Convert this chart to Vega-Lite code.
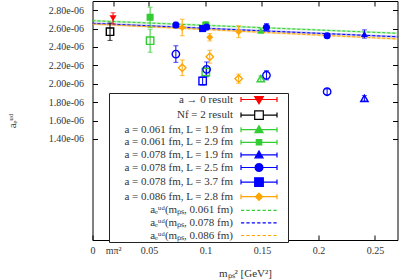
{
 "$schema":"https://vega.github.io/schema/vega-lite/v6.json",
 "width":305,"height":239,
 "autosize":{"type":"none"},
 "padding":{"left":92.5,"top":1,"right":1.5,"bottom":40},
 "background":"white",
 "config":{
  "view":{"stroke":"#000","strokeWidth":1},
  "axis":{"labelFont":"Liberation Serif","labelFontSize":10,"labelColor":"#333","tickColor":"#000","tickWidth":1,"domain":false,"grid":false,"titleFont":"Liberation Serif","titleFontWeight":"normal","titleColor":"#333","titleFontSize":11}
 },
 "datasets":{
  "pts":[
   {"s":"a → 0 result","x":0.0182,"y":2.712e-6,"e":6e-8,"o":false},
   {"s":"a = 0.061 fm, L = 1.9 fm","x":0.149,"y":2.577e-6,"e":2e-8,"o":false},
   {"s":"a = 0.061 fm, L = 2.9 fm","x":0.051,"y":2.723e-6,"e":1.1e-7,"o":false},
   {"s":"a = 0.061 fm, L = 2.9 fm","x":0.1003,"y":2.636e-6,"e":4e-8,"o":false},
   {"s":"a = 0.078 fm, L = 1.9 fm","x":0.2407,"y":2.541e-6,"e":4.5e-8,"o":false},
   {"s":"a = 0.078 fm, L = 2.5 fm","x":0.0738,"y":2.639e-6,"e":3e-8,"o":false},
   {"s":"a = 0.078 fm, L = 2.5 fm","x":0.101,"y":2.617e-6,"e":3e-8,"o":false},
   {"s":"a = 0.078 fm, L = 2.5 fm","x":0.154,"y":2.614e-6,"e":4e-8,"o":false},
   {"s":"a = 0.078 fm, L = 2.5 fm","x":0.2077,"y":2.522e-6,"e":2e-8,"o":false},
   {"s":"a = 0.078 fm, L = 3.7 fm","x":0.0975,"y":2.60e-6,"e":3e-8,"o":false},
   {"s":"a = 0.086 fm, L = 2.8 fm","x":0.0794,"y":2.612e-6,"e":9e-8,"o":false},
   {"s":"a = 0.086 fm, L = 2.8 fm","x":0.1038,"y":2.505e-6,"e":4e-8,"o":false},
   {"s":"a = 0.086 fm, L = 2.8 fm","x":0.1294,"y":2.566e-6,"e":6.5e-8,"o":false},
   {"s":"Nf = 2 result","x":0.0155,"y":2.566e-6,"e":9.5e-8,"o":true},
   {"s":"a = 0.061 fm, L = 1.9 fm","x":0.149,"y":2.055e-6,"e":3e-8,"o":true},
   {"s":"a = 0.061 fm, L = 2.9 fm","x":0.051,"y":2.468e-6,"e":1.25e-7,"o":true},
   {"s":"a = 0.061 fm, L = 2.9 fm","x":0.1003,"y":2.127e-6,"e":5e-8,"o":true},
   {"s":"a = 0.078 fm, L = 1.9 fm","x":0.2407,"y":1.841e-6,"e":3e-8,"o":true},
   {"s":"a = 0.078 fm, L = 2.5 fm","x":0.0738,"y":2.323e-6,"e":9e-8,"o":true},
   {"s":"a = 0.078 fm, L = 2.5 fm","x":0.101,"y":2.157e-6,"e":8e-8,"o":true},
   {"s":"a = 0.078 fm, L = 2.5 fm","x":0.154,"y":2.092e-6,"e":5e-8,"o":true},
   {"s":"a = 0.078 fm, L = 2.5 fm","x":0.2077,"y":1.913e-6,"e":3e-8,"o":true},
   {"s":"a = 0.078 fm, L = 3.7 fm","x":0.0975,"y":2.03e-6,"e":4.5e-8,"o":true},
   {"s":"a = 0.086 fm, L = 2.8 fm","x":0.0794,"y":2.174e-6,"e":8.5e-8,"o":true},
   {"s":"a = 0.086 fm, L = 2.8 fm","x":0.1038,"y":2.294e-6,"e":7e-8,"o":true},
   {"s":"a = 0.086 fm, L = 2.8 fm","x":0.1294,"y":2.055e-6,"e":5e-8,"o":true}
  ],
  "fits":[
   {"f":"aₑᵘᵈ(mₚₛ, 0.061 fm)","x":0,"y":2.686e-6,"lo":2.674e-6,"hi":2.698e-6},
   {"f":"aₑᵘᵈ(mₚₛ, 0.061 fm)","x":0.27,"y":2.549e-6,"lo":2.537e-6,"hi":2.561e-6},
   {"f":"aₑᵘᵈ(mₚₛ, 0.078 fm)","x":0,"y":2.657e-6,"lo":2.645e-6,"hi":2.669e-6},
   {"f":"aₑᵘᵈ(mₚₛ, 0.078 fm)","x":0.27,"y":2.511e-6,"lo":2.499e-6,"hi":2.523e-6},
   {"f":"aₑᵘᵈ(mₚₛ, 0.086 fm)","x":0,"y":2.650e-6,"lo":2.638e-6,"hi":2.662e-6},
   {"f":"aₑᵘᵈ(mₚₛ, 0.086 fm)","x":0.27,"y":2.487e-6,"lo":2.475e-6,"hi":2.499e-6}
  ]
 },
 "layer":[
  {
   "data":{"name":"fits"},
   "mark":{"type":"area","opacity":0.3},
   "encoding":{
    "x":{"field":"x","type":"quantitative","scale":{"domain":[0,0.27],"nice":false,"zero":false},
         "axis":{"orient":"bottom","values":[0,0.0182,0.05,0.1,0.15,0.2,0.25],"tickSize":-5,"labelPadding":10,"labelExpr":"datum.value < 0.001 ? '0' : datum.value < 0.03 ? 'mπ²' : format(datum.value, '~g')","labelFlush":false,"title":"mₚₛ² [GeV²]","titlePadding":12}},
    "y":{"field":"lo","type":"quantitative","scale":{"domain":[3e-7,2.9e-6],"nice":false,"zero":false},
         "axis":{"orient":"left","values":[1.4e-6,1.6e-6,1.8e-6,2.0e-6,2.2e-6,2.4e-6,2.6e-6,2.8e-6],"tickSize":-5,"labelPadding":14,"labelExpr":"format(datum.value*1e6, '.2f') + 'e-06'","title":"aₑᵘᵈ","titlePadding":31}},
    "y2":{"field":"hi"},
    "color":{"field":"f","type":"nominal","legend":null,
     "scale":{"domain":["a → 0 result","Nf = 2 result","a = 0.061 fm, L = 1.9 fm","a = 0.061 fm, L = 2.9 fm","a = 0.078 fm, L = 1.9 fm","a = 0.078 fm, L = 2.5 fm","a = 0.078 fm, L = 3.7 fm","a = 0.086 fm, L = 2.8 fm","aₑᵘᵈ(mₚₛ, 0.061 fm)","aₑᵘᵈ(mₚₛ, 0.078 fm)","aₑᵘᵈ(mₚₛ, 0.086 fm)"],
              "range":["#ff0000","#000000","#33cc33","#33cc33","#0000ff","#0000ff","#0000ff","#ffa500","#33cc33","#0000ff","#ffa500"]}}
   }
  },
  {
   "data":{"name":"fits"},
   "mark":{"type":"line","strokeDash":[3,2],"strokeWidth":1},
   "encoding":{
    "x":{"field":"x","type":"quantitative","scale":{"domain":[0,0.27],"nice":false,"zero":false},
         "axis":{"orient":"top","values":[0.0182,0.05,0.1,0.15,0.2,0.25],"tickSize":-5,"labels":false,"title":null}},
    "y":{"field":"y","type":"quantitative","scale":{"domain":[3e-7,2.9e-6],"nice":false,"zero":false},
         "axis":{"orient":"right","values":[1.4e-6,1.6e-6,1.8e-6,2.0e-6,2.2e-6,2.4e-6,2.6e-6,2.8e-6],"tickSize":-5,"labels":false,"title":null}},
    "color":{"field":"f","type":"nominal","legend":null}
   }
  },
  {
   "data":{"name":"pts"},
   "mark":{"type":"errorbar","ticks":{"size":5},"thickness":1},
   "encoding":{
    "x":{"field":"x","type":"quantitative","axis":null},
    "y":{"field":"y","type":"quantitative","axis":null},
    "yError":{"field":"e"},
    "color":{"field":"s","type":"nominal","legend":null}
   }
  },
  {
   "data":{"name":"pts"},
   "transform":[{"filter":"datum.o"}],
   "mark":{"type":"point","filled":false,"size":55,"strokeWidth":1.4,"opacity":1},
   "encoding":{
    "x":{"field":"x","type":"quantitative","axis":null},
    "y":{"field":"y","type":"quantitative","axis":null},
    "color":{"field":"s","type":"nominal","legend":null},
    "shape":{"field":"s","type":"nominal","legend":null,
     "scale":{"domain":["a → 0 result","Nf = 2 result","a = 0.061 fm, L = 1.9 fm","a = 0.061 fm, L = 2.9 fm","a = 0.078 fm, L = 1.9 fm","a = 0.078 fm, L = 2.5 fm","a = 0.078 fm, L = 3.7 fm","a = 0.086 fm, L = 2.8 fm"],
              "range":["triangle-down","square","triangle-up","square","triangle-up","circle","square","diamond"]}}
   }
  },
  {
   "data":{"name":"pts"},
   "transform":[{"filter":"!datum.o"}],
   "mark":{"type":"point","filled":true,"size":50,"opacity":1},
   "encoding":{
    "x":{"field":"x","type":"quantitative","axis":null},
    "y":{"field":"y","type":"quantitative","axis":null},
    "color":{"field":"s","type":"nominal","legend":null},
    "shape":{"field":"s","type":"nominal","legend":null,
     "scale":{"domain":["a → 0 result","Nf = 2 result","a = 0.061 fm, L = 1.9 fm","a = 0.061 fm, L = 2.9 fm","a = 0.078 fm, L = 1.9 fm","a = 0.078 fm, L = 2.5 fm","a = 0.078 fm, L = 3.7 fm","a = 0.086 fm, L = 2.8 fm"],
              "range":["triangle-down","square","triangle-up","square","triangle-up","circle","square","diamond"]}}
   }
  },
  {
   "data":{"name":"pts"},
   "transform":[{"filter":"false"}],
   "mark":{"type":"point","opacity":1},
   "encoding":{
    "x":{"field":"x","type":"quantitative","axis":null},
    "y":{"field":"y","type":"quantitative","axis":null},
    "fill":{"field":"s","type":"nominal",
     "scale":{"domain":["a → 0 result","Nf = 2 result","a = 0.061 fm, L = 1.9 fm","a = 0.061 fm, L = 2.9 fm","a = 0.078 fm, L = 1.9 fm","a = 0.078 fm, L = 2.5 fm","a = 0.078 fm, L = 3.7 fm","a = 0.086 fm, L = 2.8 fm","aₑᵘᵈ(mₚₛ, 0.061 fm)","aₑᵘᵈ(mₚₛ, 0.078 fm)","aₑᵘᵈ(mₚₛ, 0.086 fm)"],
              "range":["#ff0000","transparent","#33cc33","#33cc33","#0000ff","#0000ff","#0000ff","#ffa500","transparent","transparent","transparent"]},
     "legend":{"orient":"none","legendX":16.5,"legendY":92,"title":null,"padding":1,"strokeColor":"#222","fillColor":"white","symbolSize":16,"labelOffset":112,"labelAlign":"right","labelFont":"Liberation Serif","labelFontSize":11,"labelColor":"#333","rowPadding":0.6,"symbolStrokeWidth":1.2,"labelLimit":200}},
    "stroke":{"field":"s","type":"nominal",
     "scale":{"domain":["a → 0 result","Nf = 2 result","a = 0.061 fm, L = 1.9 fm","a = 0.061 fm, L = 2.9 fm","a = 0.078 fm, L = 1.9 fm","a = 0.078 fm, L = 2.5 fm","a = 0.078 fm, L = 3.7 fm","a = 0.086 fm, L = 2.8 fm","aₑᵘᵈ(mₚₛ, 0.061 fm)","aₑᵘᵈ(mₚₛ, 0.078 fm)","aₑᵘᵈ(mₚₛ, 0.086 fm)"],
              "range":["#ff0000","#000000","#33cc33","#33cc33","#0000ff","#0000ff","#0000ff","#ffa500","#33cc33","#0000ff","#ffa500"]},
     "legend":{"orient":"none","legendX":16.5,"legendY":92,"title":null,"padding":1,"strokeColor":"#222","fillColor":"white","symbolSize":16,"labelOffset":112,"labelAlign":"right","labelFont":"Liberation Serif","labelFontSize":11,"labelColor":"#333","rowPadding":0.6,"symbolStrokeWidth":1.2,"labelLimit":200}},
    "shape":{"field":"s","type":"nominal",
     "scale":{"domain":["a → 0 result","Nf = 2 result","a = 0.061 fm, L = 1.9 fm","a = 0.061 fm, L = 2.9 fm","a = 0.078 fm, L = 1.9 fm","a = 0.078 fm, L = 2.5 fm","a = 0.078 fm, L = 3.7 fm","a = 0.086 fm, L = 2.8 fm","aₑᵘᵈ(mₚₛ, 0.061 fm)","aₑᵘᵈ(mₚₛ, 0.078 fm)","aₑᵘᵈ(mₚₛ, 0.086 fm)"],
              "range":[
               "M62.75,0H80.75M62.75,-1.25V1.25M80.75,-1.25V1.25M69.6,-1.45H73.9L71.75,2.15ZM84.25,0H84.25",
               "M62.75,0H69.6M73.9,0H80.75M62.75,-1.25V1.25M80.75,-1.25V1.25M69.6,-2.15H73.9V2.15H69.6ZM84.25,0H84.25",
               "M62.75,0H80.75M62.75,-1.25V1.25M80.75,-1.25V1.25M69.75,1.45H73.75L71.75,-2ZM84.25,0H84.25",
               "M62.75,0H80.75M62.75,-1.25V1.25M80.75,-1.25V1.25M70.4,-1.35H73.1V1.35H70.4ZM84.25,0H84.25",
               "M62.75,0H80.75M62.75,-1.25V1.25M80.75,-1.25V1.25M69.75,1.45H73.75L71.75,-2ZM84.25,0H84.25",
               "M62.75,0H80.75M62.75,-1.25V1.25M80.75,-1.25V1.25M73.75,0L73.48,1L72.75,1.73L71.75,2L70.75,1.73L70.02,1L69.75,0L70.02,-1L70.75,-1.73L71.75,-2L72.75,-1.73L73.48,-1ZM84.25,0H84.25",
               "M62.75,0H80.75M62.75,-1.25V1.25M80.75,-1.25V1.25M69.6,-2.15H73.9V2.15H69.6ZM84.25,0H84.25",
               "M62.75,0H80.75M62.75,-1.25V1.25M80.75,-1.25V1.25M71.75,-1.8L73.55,0L71.75,1.8L69.95,0ZM84.25,0H84.25",
               "M62.75,0H64.37M65.45,0H67.07M68.15,0H69.77M70.85,0H72.47M73.55,0H75.17M76.25,0H77.87M78.95,0H80.57M84.25,0H84.25",
               "M62.75,0H64.37M65.45,0H67.07M68.15,0H69.77M70.85,0H72.47M73.55,0H75.17M76.25,0H77.87M78.95,0H80.57M84.25,0H84.25",
               "M62.75,0H64.37M65.45,0H67.07M68.15,0H69.77M70.85,0H72.47M73.55,0H75.17M76.25,0H77.87M78.95,0H80.57M84.25,0H84.25"]},
     "legend":{"orient":"none","legendX":16.5,"legendY":92,"title":null,"padding":1,"strokeColor":"#222","fillColor":"white","symbolSize":16,"labelOffset":112,"labelAlign":"right","labelFont":"Liberation Serif","labelFontSize":11,"labelColor":"#333","rowPadding":0.6,"symbolStrokeWidth":1.2,"labelLimit":200}}
   }
  }
 ],
 "resolve":{"scale":{"shape":"independent","fill":"independent","stroke":"independent"},"axis":{"x":"independent","y":"independent"}}
}
